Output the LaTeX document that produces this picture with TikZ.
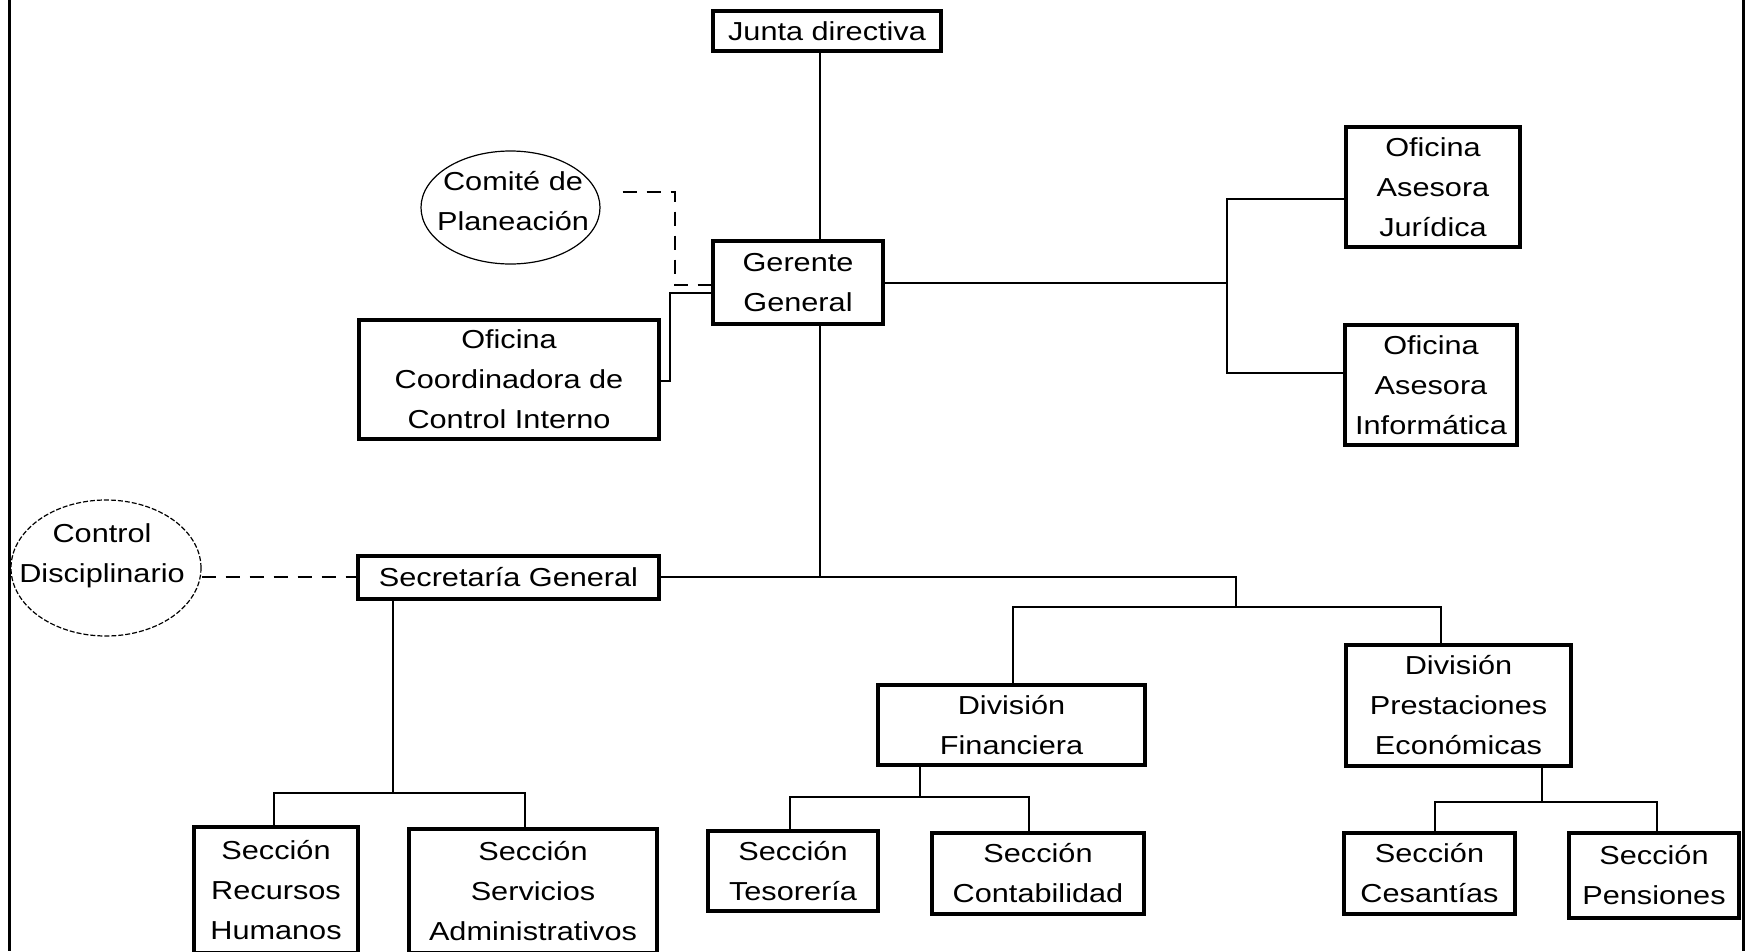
\documentclass[tikz,border=0pt]{standalone}
\usepackage{fontspec}
\setmainfont{Liberation Sans}[FakeStretch=1.18]
\usetikzlibrary{shapes.geometric}
\begin{document}
\begin{tikzpicture}[x=1pt,y=-1pt,
  box/.style={draw,line width=3.5pt,inner sep=0pt,align=center,font=\fontsize{26}{40}\selectfont},
  oval/.style={draw,ellipse,line width=1.2pt,inner sep=0pt},
  txt/.style={inner sep=0pt,align=center,font=\fontsize{26}{40}\selectfont},
  conn/.style={line width=1.6pt},
  dashconn/.style={line width=1.6pt,dash pattern=on 14pt off 10pt}]
\useasboundingbox (0,0) rectangle (1752,951);
\fill[white] (0,0) rectangle (1752,951);
% frame
\draw[line width=3pt] (9,0) -- (9,951);
\draw[line width=3pt] (1743,0) -- (1743,951);
% nodes
\node[box,minimum width=228pt,minimum height=40pt] (jd) at (827,31) {Junta directiva};
\node[box,minimum width=170pt,minimum height=83pt] (gg) at (798,282.5) {Gerente\\General};
\node[oval,minimum width=179pt,minimum height=113pt] (cp) at (510.5,207.5) {};
\node[txt] (cpt) at (513,201) {Comité de\\Planeación};
\node[box,minimum width=300pt,minimum height=119pt] (oci) at (509,379.5) {Oficina\\Coordinadora de\\Control Interno};
\node[box,minimum width=174pt,minimum height=120pt] (oaj) at (1433,187) {Oficina\\Asesora\\Jurídica};
\node[box,minimum width=172pt,minimum height=120pt] (oai) at (1431,385) {Oficina\\Asesora\\Informática};
\node[oval,dash pattern=on 5pt off 2pt,minimum width=190pt,minimum height=136pt] (cd) at (106,568) {};
\node[txt] (cdt) at (102,556) {Control\\Disciplinario};
\node[box,minimum width=301pt,minimum height=43pt] (sg) at (508.5,577.5) {Secretaría General};
\node[box,minimum width=267pt,minimum height=80pt] (df) at (1011.5,725) {División\\Financiera};
\node[box,minimum width=225pt,minimum height=121pt] (dp) at (1458.5,705.5) {División\\Prestaciones\\Económicas};
\node[box,minimum width=164pt,minimum height=126pt] (srh) at (276,890) {Sección\\Recursos\\Humanos};
\node[box,minimum width=248pt,minimum height=124pt] (ssa) at (533,891) {Sección\\Servicios\\Administrativos};
\node[box,minimum width=170pt,minimum height=80pt] (st) at (793,871) {Sección\\Tesorería};
\node[box,minimum width=212pt,minimum height=81pt] (sc) at (1038,873.5) {Sección\\Contabilidad};
\node[box,minimum width=171pt,minimum height=81pt] (sce) at (1429.5,873.5) {Sección\\Cesantías};
\node[box,minimum width=170pt,minimum height=85pt] (spn) at (1654,875.5) {Sección\\Pensiones};
% spine
\coordinate (spine) at (820,577);
\draw[conn] (jd.south -| spine) -- (gg.north -| spine);
\draw[conn] (gg.south -| spine) -- (spine);
% advisors right
\coordinate (rj) at (1227,283);
\coordinate (rja) at (1227,199);
\coordinate (rjb) at (1227,373);
\draw[conn] (gg.east |- rj) -- (rj);
\draw[conn] (oaj.west |- rja) -- (rja) -- (rjb) -- (oai.west |- rjb);
% comite dashed
\coordinate (ca) at (675,192);
\coordinate (cb) at (675,285);
\draw[dashconn,shorten <=22pt] (cp.east |- ca) -- (ca) -- (cb) -- (gg.west |- cb);
% oficina coordinadora
\coordinate (oa) at (670,381);
\coordinate (ob) at (670,293);
\draw[conn] (oci.east |- oa) -- (oa) -- (ob) -- (gg.west |- ob);
% control disciplinario
\draw[dashconn] (cd.east |- spine) -- (sg.west |- spine);
% secretaria to divisions
\coordinate (da) at (1236,577);
\coordinate (db) at (1236,607);
\coordinate (dfl) at (1013,607);
\coordinate (dpl) at (1441,607);
\draw[conn] (sg.east |- spine) -- (da) -- (db);
\draw[conn] (df.north -| dfl) -- (dfl) -- (dpl) -- (dp.north -| dpl);
% secretaria sections
\coordinate (sgd) at (393,793);
\coordinate (srhd) at (274,793);
\coordinate (ssad) at (525,793);
\draw[conn] (sg.south -| sgd) -- (sgd);
\draw[conn] (srh.north -| srhd) -- (srhd) -- (ssad) -- (ssa.north -| ssad);
% financiera sections
\coordinate (dfd) at (920,797);
\coordinate (std) at (790,797);
\coordinate (scd) at (1029,797);
\draw[conn] (df.south -| dfd) -- (dfd);
\draw[conn] (st.north -| std) -- (std) -- (scd) -- (sc.north -| scd);
% prestaciones sections
\coordinate (dpd) at (1542,802);
\coordinate (ced) at (1435,802);
\coordinate (pnd) at (1657,802);
\draw[conn] (dp.south -| dpd) -- (dpd);
\draw[conn] (sce.north -| ced) -- (ced) -- (pnd) -- (spn.north -| pnd);
\end{tikzpicture}
\end{document}
